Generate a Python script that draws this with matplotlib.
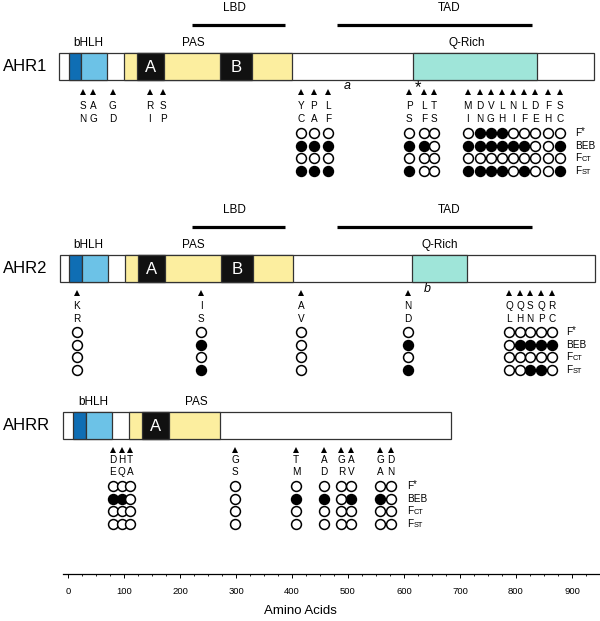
import matplotlib.pyplot as plt
from matplotlib.patches import Rectangle

plt.rcParams['font.family'] = ['Liberation Sans', 'DejaVu Sans']

# ---- data (amino-acid coordinates) ----
proteins = ['AHR1', 'AHR2', 'AHRR']
bar_span = {'AHR1': (-16, 939), 'AHR2': (-14, 941), 'AHRR': (-9, 684)}
dkblue = {'AHR1': (2, 23), 'AHR2': (2, 25), 'AHRR': (9, 32)}
ltblue = {'AHR1': (23, 70), 'AHR2': (25, 71), 'AHRR': (32, 79)}
pas = {'AHR1': (100, 400), 'AHR2': (102, 402), 'AHRR': (109, 271)}
pas_a = {'AHR1': (123, 171), 'AHR2': (125, 173), 'AHRR': (132, 180)}
pas_b = {'AHR1': (271, 329), 'AHR2': (273, 330)}
qrich = {'AHR1': (616, 837), 'AHR2': (614, 713)}
lbd = (221, 388)
tad = (480, 829)

ahr1_sites = [27, 45, 80, 146, 170, 416, 439, 464, 609, 636, 654,
              714, 736, 755, 775, 795, 814, 834, 857, 879]
ahr1_from = list('SAGRSYPLPLTMDVLNLDFS')
ahr1_to = list('NGDIPCAFSFSINGHIFEHC')
ahr1_fstar = [None] * 5 + [0, 0, 0, 0, 0, 0, 0, 1, 1, 1, 0, 0, 0, 0, 0]
ahr1_beb = [None] * 5 + [1, 1, 1, 1, 1, 0, 1, 1, 1, 1, 1, 1, 0, 0, 1]
ahr1_fct = [None] * 5 + [0] * 15
ahr1_fst = [None] * 5 + [1, 1, 1, 1, 0, 0, 1, 1, 1, 1, 0, 1, 0, 0, 1]

ahr2_sites = [16, 238, 416, 607, 788, 807, 825, 845, 864]
ahr2_from = list('KIANQQSQR')
ahr2_to = list('RSVDLHNPC')
ahr2_fstar = [0, 0, 0, 0, 0, 0, 0, 0, 0]
ahr2_beb = [0, 1, 0, 1, 0, 1, 1, 1, 1]
ahr2_fct = [0, 0, 0, 0, 0, 0, 0, 0, 0]
ahr2_fst = [0, 1, 0, 1, 0, 0, 1, 1, 0]

ahrr_sites = [80, 96, 111, 298, 407, 457, 488, 505, 557, 577]
ahrr_from = list('DHTGTAGAGD')
ahrr_to = list('EQASMDRVAN')
ahrr_fstar = [0] * 10
ahrr_beb = [1, 1, 0, 0, 1, 1, 0, 1, 1, 0]
ahrr_fct = [0] * 10
ahrr_fst = [0] * 10

sites = {'AHR1': ahr1_sites, 'AHR2': ahr2_sites, 'AHRR': ahrr_sites}
aa_from = {'AHR1': ahr1_from, 'AHR2': ahr2_from, 'AHRR': ahrr_from}
aa_to = {'AHR1': ahr1_to, 'AHR2': ahr2_to, 'AHRR': ahrr_to}
tests = {'AHR1': [ahr1_fstar, ahr1_beb, ahr1_fct, ahr1_fst],
         'AHR2': [ahr2_fstar, ahr2_beb, ahr2_fct, ahr2_fst],
         'AHRR': [ahrr_fstar, ahrr_beb, ahrr_fct, ahrr_fst]}

# ---- layout (y in pixels from top) ----
bar_top = {'AHR1': 53, 'AHR2': 255, 'AHRR': 412}
bar_h = 27
arrow_y = {'AHR1': 92, 'AHR2': 293, 'AHRR': 450}
letter_y = {'AHR1': (106, 119), 'AHR2': (306, 319), 'AHRR': (460, 472)}
circle_y0 = {'AHR1': 133, 'AHR2': 332, 'AHRR': 486}
row_step = 12.6
rowlab_x = {'AHR1': 905, 'AHR2': 889, 'AHRR': 605}
label_x = {'bHLH': {'AHR1': 36, 'AHR2': 36, 'AHRR': 45},
           'PAS': {'AHR1': 223, 'AHR2': 223, 'AHRR': 230},
           'Q-Rich': {'AHR1': 712, 'AHR2': 664}}

c_dkblue = '#0f6eb4'
c_ltblue = '#6cc2e7'
c_yellow = '#fcee9f'
c_teal = '#9fe5d9'
c_edge = '#333333'

fig = plt.figure(figsize=(6, 6.21), dpi=100)
ax = fig.add_axes([0, 0, 1, 1])
xlim = (-68 / 0.56, 532 / 0.56)
ax.set_xlim(*xlim)
ax.set_ylim(621, 0)
ax.axis('off')


def box(span, top, color, z=2):
    ax.add_patch(Rectangle((span[0], top), span[1] - span[0], bar_h,
                           facecolor=color, edgecolor=c_edge, lw=0.9, zorder=z))


for p in proteins:
    top = bar_top[p]
    mid = top + bar_h / 2
    box(bar_span[p], top, 'white', 1)
    box(dkblue[p], top, c_dkblue)
    box(ltblue[p], top, c_ltblue)
    box(pas[p], top, c_yellow)
    box(pas_a[p], top, '#111111', 3)
    a = pas_a[p]
    ax.text((a[0] + a[1]) / 2, mid + 1, 'A', color='white', fontsize=12,
            ha='center', va='center', zorder=4)
    if p in pas_b:
        b = pas_b[p]
        box(b, top, '#111111', 3)
        ax.text((b[0] + b[1]) / 2, mid + 1, 'B', color='white', fontsize=12,
                ha='center', va='center', zorder=4)
    if p in qrich:
        box(qrich[p], top, c_teal)
        ax.text(label_x['Q-Rich'][p], top - 10, 'Q-Rich', fontsize=8.5,
                ha='center', va='center')
    ax.text(label_x['bHLH'][p], top - 10, 'bHLH', fontsize=8.5, ha='center', va='center')
    ax.text(label_x['PAS'][p], top - 10, 'PAS', fontsize=8.5, ha='center', va='center')
    ax.text(-116, mid, p, fontsize=12, ha='left', va='center')

    if p != 'AHRR':
        for (s, e), name, tx in [(lbd, 'LBD', 298), (tad, 'TAD', 680)]:
            ax.plot([s, e], [top - 28, top - 28], color='black', lw=2.3,
                    solid_capstyle='butt')
            ax.text(tx, top - 45, name, fontsize=8.5, ha='center', va='center')

    # substitutions
    xs = sites[p]
    ax.plot(xs, [arrow_y[p]] * len(xs), '^', color='black', ms=4.4, mew=0)
    for x, f, t in zip(xs, aa_from[p], aa_to[p]):
        ax.text(x, letter_y[p][0], f, fontsize=7.2, ha='center', va='center')
        ax.text(x, letter_y[p][1], t, fontsize=7.2, ha='center', va='center')

    for r, row in enumerate(tests[p]):
        y = circle_y0[p] + r * row_step
        for x, v in zip(xs, row):
            if v is None:
                continue
            ax.plot(x, y, 'o', ms=7.1, mew=1.1, mec='black',
                    mfc='black' if v else 'white', zorder=5)

    # row labels
    lx = rowlab_x[p]
    y0 = circle_y0[p]
    ax.annotate('F', (lx, y0 + 3), fontsize=7.2, va='baseline')
    ax.annotate('*', (lx, y0 + 3), xytext=(4.4, 1.2), textcoords='offset points',
                fontsize=7, va='baseline')
    ax.annotate('BEB', (lx, y0 + row_step + 3), fontsize=7.2, va='baseline')
    for k, sub in [(2, 'CT'), (3, 'ST')]:
        yy = y0 + k * row_step + 3
        ax.annotate('F', (lx, yy), fontsize=7.2, va='baseline')
        ax.annotate(sub, (lx, yy), xytext=(4.6, 0), textcoords='offset points',
                    fontsize=5.3, va='baseline')

# site notes
ax.text(498, 86, 'a', fontsize=9, style='italic', ha='center', va='center')
ax.text(625, 88, '*', fontsize=12, ha='center', va='center')
ax.text(641, 289, 'b', fontsize=9, style='italic', ha='center', va='center')

# amino-acid ruler
rax = fig.add_axes([0, (621 - 574) / 621, 1, 0.01])
rax.set_xlim(*xlim)
rax.patch.set_alpha(0)
for s in ['top', 'left', 'right']:
    rax.spines[s].set_visible(False)
rax.spines['bottom'].set_bounds(-9, xlim[1])
rax.spines['bottom'].set_linewidth(0.9)
rax.set_yticks([])
rax.set_xticks(range(0, 901, 100))
rax.set_xticks(range(0, 951, 25), minor=True)
rax.tick_params(axis='x', which='major', length=3, width=0.7, labelsize=6.8, pad=6)
rax.tick_params(axis='x', which='minor', length=1.6, width=0.6)
rax.set_xlabel('Amino Acids', fontsize=9.5, labelpad=7)

fig.savefig('out.png', dpi=100)
